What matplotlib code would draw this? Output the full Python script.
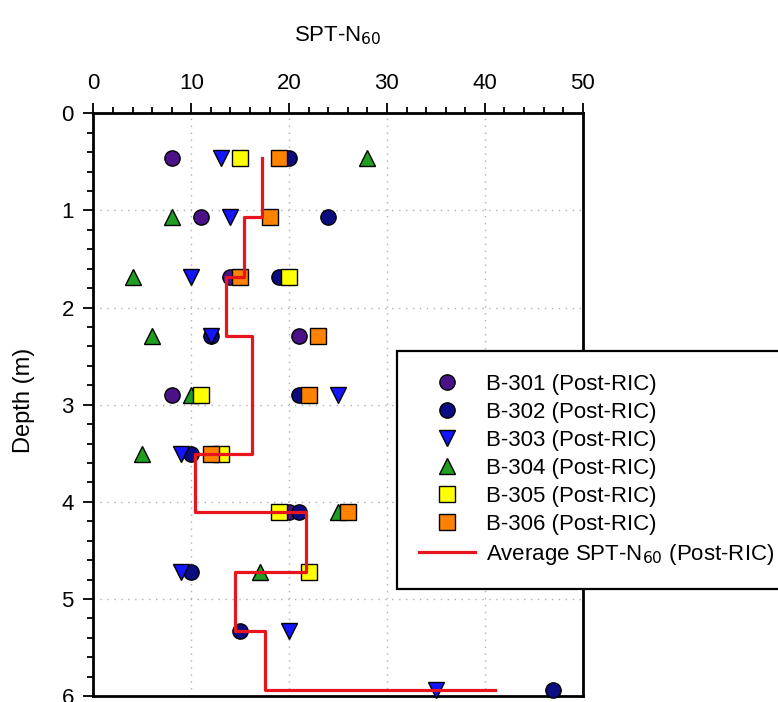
import numpy as np
import matplotlib
matplotlib.use('Agg')
import matplotlib.pyplot as plt

plt.rcParams['font.family'] = ['Liberation Sans', 'DejaVu Sans']

# profundidades dos ensaios (m)
depth = [0.46, 1.07, 1.68, 2.29, 2.90, 3.51, 4.11, 4.72, 5.33, 5.94]

nan = np.nan
b301 = [8, 11, 14, 21, 8, nan, 20, nan, nan, nan]
b302 = [20, 24, 19, 12, 21, 10, 21, 10, 15, 47]
b303 = [13, 14, 10, 12, 25, 9, nan, 9, 20, 35]
b304 = [28, 8, 4, 6, 10, 5, 25, 17, nan, nan]
b305 = [15, nan, 20, nan, 11, 13, 19, 22, nan, nan]
b306 = [19, 18, 15, 23, 22, 12, 26, nan, nan, nan]

avg_n60 = [17.2, 15.4, 13.6, 16.2, 16.2, 10.4, 21.7, 14.5, 17.5, 41.0]

series = [
    ('B-301 (Post-RIC)', b301, 'o', '#4b1287'),
    ('B-302 (Post-RIC)', b302, 'o', '#0c0c82'),
    ('B-303 (Post-RIC)', b303, 'v', '#1414ff'),
    ('B-304 (Post-RIC)', b304, '^', '#1f9e1f'),
    ('B-305 (Post-RIC)', b305, 's', '#ffff00'),
    ('B-306 (Post-RIC)', b306, 's', '#ff8200'),
]

fig = plt.figure(figsize=(7.78, 7.02), dpi=100)
ax = fig.add_axes([0.120, 0.0085, 0.629, 0.830])

for name, vals, mk, col in series:
    ax.plot(vals, depth, linestyle='none', marker=mk, markersize=11,
            markerfacecolor=col, markeredgecolor='black', markeredgewidth=1.0,
            label=name, zorder=3, clip_on=False)

# degraus da media: valor i vale de depth[i] ate depth[i+1]
xs = np.repeat(avg_n60, 2)[:-1]
ys = np.concatenate([[depth[0]], np.repeat(depth[1:], 2)])
ax.plot(xs, ys, color='#e8141e', lw=2.3, zorder=4,
        label='Average SPT-N$_{60}$ (Post-RIC)')

ax.set_xlim(0, 50)
ax.set_ylim(6, 0)
ax.set_xticks(np.arange(0, 51, 10))
ax.set_xticks(np.arange(0, 51, 2), minor=True)
ax.set_yticks(np.arange(0, 7, 1))
ax.set_yticks(np.arange(0, 6.01, 0.2), minor=True)
ax.xaxis.tick_top()
ax.tick_params(which='major', direction='out', length=7, width=1.3,
               labelsize=16, pad=7)
ax.tick_params(which='minor', direction='out', length=4.5, width=1.3)
ax.tick_params(axis='x', which='both', top=True, bottom=False)
ax.grid(True, which='major', linestyle=(0, (1, 4)), color='#b0b0b0', lw=1.0)
for sp in ax.spines.values():
    sp.set_linewidth(2)

fig.text(0.434, 0.949, 'SPT-N$_{60}$', ha='center', va='center', fontsize=16)
fig.text(0.031, 0.43, 'Depth (m)', ha='center', va='center',
         rotation=90, fontsize=17)

leg = fig.legend(loc='upper left', bbox_to_anchor=(0.510, 0.4995),
                 fontsize=16, frameon=True, fancybox=False,
                 edgecolor='black', framealpha=1, handlelength=2.5,
                 handletextpad=0.5, labelspacing=0.32, borderpad=1.0,
                 borderaxespad=0)
leg.get_frame().set_linewidth(1.6)

fig.savefig('out.png', dpi=100)
